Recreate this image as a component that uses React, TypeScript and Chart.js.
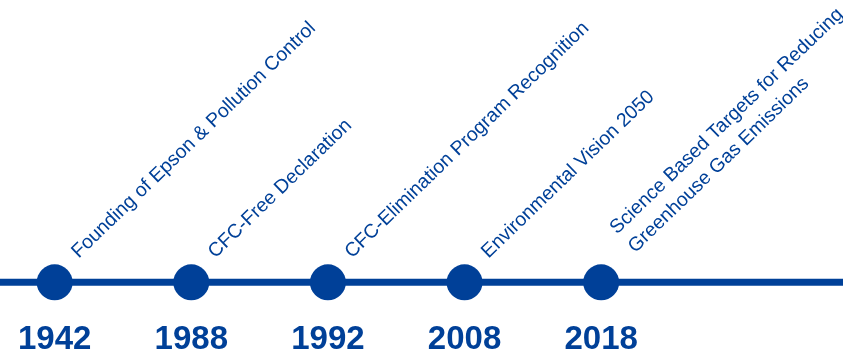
import React, { useEffect, useRef } from 'react';
import { Chart, registerables } from 'chart.js';

Chart.register(...registerables);

const years = ['1942', '1988', '1992', '2008', '2018'];
const milestones: string[][] = [
  ['Founding of Epson & Pollution Control'],
  ['CFC-Free Declaration'],
  ['CFC-Elimination Program Recognition'],
  ['Environmental Vision 2050'],
  ['Science Based Targets for Reducing', 'Greenhouse Gas Emissions'],
];
const timelineLevel = [0, 0, 0, 0, 0];

const BLUE = '#004098';
const ANGLE = (44 * Math.PI) / 180;
const LABEL_FONT = '19.5px "Liberation Sans", Arial, sans-serif';
const LINE_H = 26;

const timelinePlugin = {
  id: 'timeline',
  beforeDatasetsDraw(chart: any) {
    const { ctx } = chart;
    const y = chart.scales.y;
    const py = y.getPixelForValue(0);
    ctx.save();
    ctx.strokeStyle = BLUE;
    ctx.lineWidth = 7;
    ctx.beginPath();
    ctx.moveTo(0, py);
    ctx.lineTo(chart.width, py);
    ctx.stroke();
    ctx.restore();
  },
  afterDatasetsDraw(chart: any) {
    const { ctx } = chart;
    const meta = chart.getDatasetMeta(0);
    ctx.save();
    ctx.font = LABEL_FONT;
    ctx.fillStyle = BLUE;
    ctx.textAlign = 'left';
    ctx.textBaseline = 'alphabetic';
    meta.data.forEach((pt: any, i: number) => {
      const lines = milestones[i] || [];
      const n = lines.length;
      ctx.save();
      ctx.translate(pt.x + 24, pt.y - 23.5);
      ctx.rotate(-ANGLE);
      lines.forEach((t, k) => {
        const along = n > 1 ? 11 : 0;
        const up = ((n - 1) / 2 - k) * LINE_H + (n > 1 ? 10 : 0);
        ctx.fillText(t, along, -up);
      });
      ctx.restore();
    });
    ctx.restore();
  },
};

export default function App() {
  const ref = useRef<HTMLCanvasElement | null>(null);
  useEffect(() => {
    if (!ref.current) return;
    const chart = new Chart(ref.current, {
      type: 'scatter',
      data: {
        datasets: [
          {
            data: years.map((_, i) => ({ x: i, y: timelineLevel[i] })),
            pointRadius: 18,
            pointHoverRadius: 18,
            backgroundColor: BLUE,
            borderWidth: 0,
            pointBorderWidth: 0,
            clip: false,
          },
        ],
      },
      options: {
        animation: false,
        responsive: true,
        maintainAspectRatio: false,
        events: [],
        layout: { padding: 0, autoPadding: false },
        plugins: { legend: { display: false }, tooltip: { enabled: false } },
        scales: {
          x: {
            type: 'linear',
            min: -0.4,
            max: 5.77,
            grid: { display: false, drawTicks: false },
            border: { display: false },
            afterBuildTicks: (s: any) => {
              s.ticks = years.map((_, i) => ({ value: i }));
            },
            ticks: {
              autoSkip: false,
              maxRotation: 0,
              minRotation: 0,
              padding: 3,
              color: BLUE,
              font: { family: '"Liberation Sans", Arial, sans-serif', size: 33, weight: 'bold', lineHeight: 0.8 },
              callback: (v: any) => years[v] ?? '',
            },
          },
          y: { display: false, min: -0.146, max: 1 },
        },
      },
      plugins: [timelinePlugin],
    } as any);
    return () => chart.destroy();
  }, []);
  return (
    <div style={{ position: 'absolute', left: 0, top: 0, width: 843, height: 356, background: '#fff' }}>
      <canvas ref={ref} />
    </div>
  );
}
